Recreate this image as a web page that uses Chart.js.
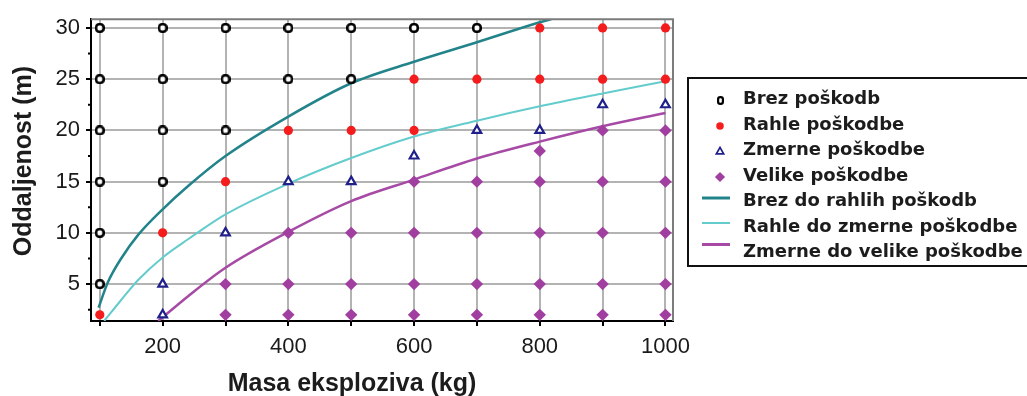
<!DOCTYPE html>
<html><head><meta charset="utf-8">
<script src="https://cdn.jsdelivr.net/npm/chart.js@4/dist/chart.umd.min.js"></script>
<style>html,body{margin:0;padding:0;background:#fff;}canvas{display:block;}</style>
</head><body>
<canvas id="c" width="1027" height="396"></canvas>
<script>
// ---------- data ----------
const seriesNames = ['Brez poškodb','Rahle poškodbe','Zmerne poškodbe','Velike poškodbe',
  'Brez do rahlih poškodb','Rahle do zmerne poškodbe','Zmerne do velike poškodbe'];

const brezX = [100,100,100,100,100,100, 200,200,200,200, 300,300,300, 400,400, 500,500, 600, 700];
const brezY = [30,25,20,15,10,5,        30,25,20,15,     30,25,20,     30,25,     30,25,     30,  30];

const rahleX = [100, 200, 300, 400, 500, 600,600, 700, 800,800, 900,900, 1000,1000];
const rahleY = [2,   10,  15,  20,  20,  25,20,   25,  30,25,   30,25,   30,25];

const zmerneX = [200,200, 300, 400, 500, 600,  700, 800, 900,  1000];
const zmerneY = [5,2,     10,  15,  15,  17.5, 20,  20,  22.5, 22.5];

const velikeX = [300,300, 400,400,400, 500,500,500, 600,600,600,600, 700,700,700,700,
  800,800,800,800,800, 900,900,900,900,900, 1000,1000,1000,1000,1000];
const velikeY = [5,2,     10,5,2,      10,5,2,      15,10,5,2,       15,10,5,2,
  18,15,10,5,2,         20,15,10,5,2,          20,15,10,5,2];

const brezDoX = [98,  113, 134, 161, 200,  241,  300,  400,   500,  600,  700,  800,   826];
const brezDoY = [2.7, 5.2, 7.5, 9.8, 12.3, 14.6, 17.5, 21.35, 24.6, 26.7, 28.6, 30.55, 31.0];

const rahleDoX = [107, 134,  161, 200, 241,  300,  400,  500,  600,  700,   800,   900,  1000];
const rahleDoY = [1.4, 3.45, 5.4, 7.6, 9.4,  11.8, 14.8, 17.3, 19.4, 20.95, 22.35, 23.6, 24.8];

const zmerneDoX = [193, 240, 300, 400,  500,  600,  700,   800,  900,  1000];
const zmerneDoY = [1.4, 3.8, 6.6, 10.1, 13.1, 15.2, 17.25, 18.9, 20.4, 21.7];

const xTicks = [100,200,300,400,500,600,700,800,900,1000];
const xTickLabels = ['','200','','400','','600','','800','','1000'];
const yTicks = [5,10,15,20,25,30];
const yTickLabels = ['5','10','15','20','25','30'];
const yMinorTicks = [2.5,7.5,12.5,17.5,22.5,27.5];
const xTitle = 'Masa eksploziva (kg)';
const yTitle = 'Oddaljenost (m)';

// ---------- helpers ----------
const pts = (xs, ys) => xs.map((x, i) => ({x, y: ys[i]}));
function rr(g, x, y, w, h, r){
  g.beginPath(); g.moveTo(x+r, y); g.lineTo(x+w-r, y); g.arcTo(x+w, y, x+w, y+r, r);
  g.lineTo(x+w, y+h-r); g.arcTo(x+w, y+h, x+w-r, y+h, r); g.lineTo(x+r, y+h);
  g.arcTo(x, y+h, x, y+h-r, r); g.lineTo(x, y+r); g.arcTo(x, y, x+r, y, r); g.closePath();
}
function makeSquare(w, h, lw, r){
  const c = document.createElement('canvas'); c.width = w; c.height = h;
  const g = c.getContext('2d'); g.fillStyle = '#fff'; g.strokeStyle = '#000'; g.lineWidth = lw;
  rr(g, lw/2, lw/2, w-lw, h-lw, r); g.fill(); g.stroke(); return c;
}
const sqPlot = makeSquare(10, 10, 2.6, 3);
const sqLegend = makeSquare(7, 9, 2.2, 2.2);

const FONT = '"Liberation Sans", Arial, sans-serif';

const datasets = [
  {label: seriesNames[0], data: pts(brezX, brezY), pointStyle: sqPlot, legendStyle: sqLegend,
   pointRadius: 5, backgroundColor: '#fff', borderColor: '#000', borderWidth: 2},
  {label: seriesNames[1], data: pts(rahleX, rahleY), pointStyle: 'circle',
   pointRadius: 4.6, backgroundColor: '#f41c1c', borderColor: '#f41c1c', borderWidth: 0},
  {label: seriesNames[2], data: pts(zmerneX, zmerneY), pointStyle: 'triangle',
   pointRadius: 5, backgroundColor: '#fff', borderColor: '#20208a', borderWidth: 2.2},
  {label: seriesNames[3], data: pts(velikeX, velikeY), pointStyle: 'rectRot',
   pointRadius: 6.2, backgroundColor: '#a13fa1', borderColor: '#a13fa1', borderWidth: 0},
  {label: seriesNames[4], data: pts(brezDoX, brezDoY), showLine: true, pointRadius: 0,
   borderColor: '#22848a', borderWidth: 2.5, cubicInterpolationMode: 'monotone', fill: false, legendLineWidth: 3, legendDy: -2.5},
  {label: seriesNames[5], data: pts(rahleDoX, rahleDoY), showLine: true, pointRadius: 0,
   borderColor: '#64cccc', borderWidth: 2, cubicInterpolationMode: 'monotone', fill: false, legendLineWidth: 2, legendDy: -3},
  {label: seriesNames[6], data: pts(zmerneDoX, zmerneDoY), showLine: true, pointRadius: 0,
   borderColor: '#a64aa6', borderWidth: 2.5, cubicInterpolationMode: 'monotone', fill: false, legendLineWidth: 3, legendDy: -7}
];

function drawMarker(ctx, ds, x, y){
  const style = ds.legendStyle || ds.pointStyle;
  const r = ds.pointRadius * 0.82;
  ctx.save();
  ctx.fillStyle = ds.backgroundColor; ctx.strokeStyle = ds.borderColor; ctx.lineWidth = 1.7;
  if (typeof style === 'object') {
    ctx.drawImage(style, Math.round(x - style.width/2), Math.round(y - style.height/2));
  } else if (style === 'circle') {
    ctx.beginPath(); ctx.arc(x, y, r, 0, Math.PI*2); ctx.fill();
  } else if (style === 'triangle') {
    ctx.beginPath(); ctx.moveTo(x, y - r); ctx.lineTo(x + r*0.9, y + r*0.6); ctx.lineTo(x - r*0.9, y + r*0.6);
    ctx.closePath(); ctx.fill(); ctx.stroke();
  } else if (style === 'rectRot') {
    ctx.beginPath(); ctx.moveTo(x, y - r); ctx.lineTo(x + r, y); ctx.lineTo(x, y + r); ctx.lineTo(x - r, y);
    ctx.closePath(); ctx.fill();
  }
  ctx.restore();
}

const decor = {
  id: 'decor',
  afterDraw(chart){
    const ctx = chart.ctx, a = chart.chartArea, y = chart.scales.y;
    ctx.save();
    // top / right frame
    ctx.strokeStyle = '#7c7c7c'; ctx.lineWidth = 2;
    ctx.beginPath(); ctx.moveTo(a.left, a.top); ctx.lineTo(a.right, a.top); ctx.lineTo(a.right, a.bottom); ctx.stroke();
    // minor y ticks
    ctx.strokeStyle = '#000'; ctx.lineWidth = 2;
    yMinorTicks.forEach(v => { const py = y.getPixelForValue(v);
      ctx.beginPath(); ctx.moveTo(a.left - 3, py); ctx.lineTo(a.left, py); ctx.stroke(); });
    // axis titles
    ctx.fillStyle = '#1c1c1c'; ctx.font = 'bold 25px ' + FONT;
    ctx.textAlign = 'center'; ctx.textBaseline = 'alphabetic';
    ctx.fillText(xTitle, 352, 391);
    ctx.save(); ctx.translate(31, 161); ctx.rotate(-Math.PI/2); ctx.fillText(yTitle, 0, 0); ctx.restore();
    // legend
    const lg = {x: 688, y: 78, w: 360, h: 188, markX: 720, lineX0: 702, lineX1: 730, textX: 743, row0: 98.5, step: 25.5};
    ctx.fillStyle = '#fff'; ctx.fillRect(lg.x, lg.y, lg.w, lg.h);
    ctx.strokeStyle = '#111'; ctx.lineWidth = 2; ctx.strokeRect(lg.x, lg.y, lg.w, lg.h);
    ctx.font = 'bold 18px "DejaVu Sans", sans-serif'; ctx.textAlign = 'left'; ctx.textBaseline = 'middle';
    chart.data.datasets.forEach((ds, i) => {
      const ry = lg.row0 + i * lg.step;
      if (ds.showLine) {
        const ly = ry + (ds.legendDy || 0);
        ctx.strokeStyle = ds.borderColor; ctx.lineWidth = ds.legendLineWidth;
        ctx.beginPath(); ctx.moveTo(lg.lineX0, ly); ctx.lineTo(lg.lineX1, ly); ctx.stroke();
      } else {
        drawMarker(ctx, ds, lg.markX, ry + 2);
      }
      ctx.fillStyle = '#1c1c1c'; ctx.fillText(ds.label, lg.textX, ry + 1);
    });
    ctx.restore();
  }
};

new Chart(document.getElementById('c'), {
  type: 'scatter',
  data: {datasets},
  options: {
    responsive: false, animation: false, events: [],
    layout: {padding: {left: 0, top: 17, right: 354, bottom: 0}},
    plugins: {legend: {display: false}, tooltip: {enabled: false}},
    scales: {
      x: {
        type: 'linear', min: 86, max: 1012,
        afterBuildTicks: s => { s.ticks = xTicks.map(v => ({value: v})); },
        afterFit: s => { s.height = 75; },
        ticks: {autoSkip: false, maxRotation: 0, padding: 8, color: '#1a1a1a',
          font: {family: FONT, size: 22}, callback: (v, i) => xTickLabels[i]},
        grid: {color: '#b3b3b3', lineWidth: 2, tickColor: '#000', tickLength: 5, tickWidth: 2},
        border: {color: '#000', width: 2}
      },
      y: {
        type: 'linear', min: 1.4, max: 30.85,
        afterBuildTicks: s => { s.ticks = yTicks.map(v => ({value: v})); },
        afterFit: s => { s.width = 91; },
        ticks: {padding: 6, color: '#1a1a1a', font: {family: FONT, size: 22},
          callback: (v, i) => yTickLabels[i]},
        grid: {color: '#b3b3b3', lineWidth: 2, tickColor: '#000', tickLength: 5, tickWidth: 2},
        border: {color: '#000', width: 2}
      }
    }
  },
  plugins: [decor]
});
</script>
</body></html>
